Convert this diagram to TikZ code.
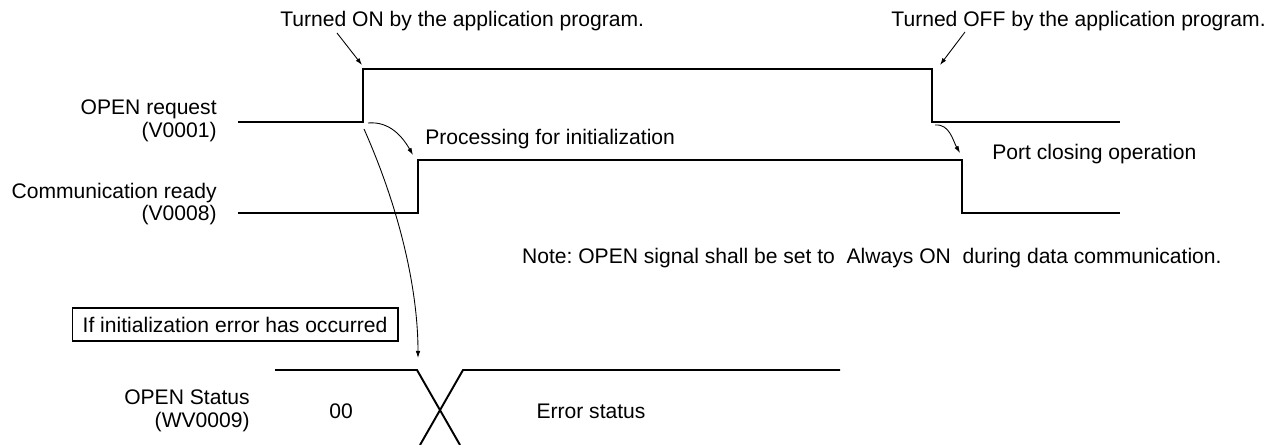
\documentclass[tikz,border=0pt]{standalone}
\usepackage{fontspec}
\setmainfont{Liberation Sans}
\usetikzlibrary{arrows.meta}
\begin{document}
\frenchspacing
\begin{tikzpicture}[x=0.02cm,y=-0.02cm,font=\fontsize{12}{12.8}\selectfont,
  sig/.style={line width=1.1pt},
  lbl/.style={inner sep=0pt},
  pointer/.style={-{Latex[length=4pt,width=2.6pt]},line width=0.5pt}]
\useasboundingbox (0,0) rectangle (1270,445);
\def\sigWave#1#2#3#4{%
  \draw[sig] (238,#1) -- (#3,#1) -- (#3,#2) -- (#4,#2) -- (#4,#1) -- (1120,#1);}
\sigWave{122}{69}{363}{932}
\sigWave{213}{160}{418}{962}
\node[lbl,align=right,anchor=east] (req) at (217,121) {OPEN request\\(V0001)};
\node[lbl,align=right,anchor=east] (rdy) at (217,204) {Communication ready\\(V0008)};
\node[lbl,anchor=base west] (tOn) at (280,27) {Turned ON by the application program.};
\node[lbl,anchor=base east] (tOff) at (1266,27) {Turned OFF by the application program.};
\node[lbl,anchor=base west] (proc) at (425,145) {Processing for initialization};
\node[lbl,anchor=base west] (close) at (992,160) {Port closing operation};
\node[lbl,anchor=base east] (note) at (1222,264) {Note: OPEN signal shall be set to\ \ Always ON\ \ during data communication.};
\node[draw,line width=0.6pt,minimum width=6.52cm,minimum height=0.66cm] (cond) at (235,324.5) {If initialization error has occurred};
\node[lbl,align=right,anchor=east] (stat) at (250,411) {OPEN Status\\(WV0009)};
\node[lbl] (v00) at (341,411) {00};
\node[lbl] (vErr) at (591,411) {Error status};
\draw[sig] (275,370) -- (417,370) -- (460,445);
\draw[sig] (840,370) -- (463,370) -- (420,445);
\coordinate (onFrom) at (337,33);  \coordinate (onTo) at (362,65);
\coordinate (offFrom) at (965,32); \coordinate (offTo) at (940,65);
\coordinate (procFrom) at (368,123); \coordinate (procTo) at (413,155);
\coordinate (errFrom) at (364,129); \coordinate (errTo) at (418,358);
\coordinate (closeFrom) at (935,125); \coordinate (closeTo) at (960,153);
\draw[pointer] (onFrom) -- (onTo);
\draw[pointer] (offFrom) -- (offTo);
\draw[pointer] (procFrom) to[out=5,in=120] (procTo);
\draw[pointer] (closeFrom) to[out=5,in=120] (closeTo);
\draw[pointer] (errFrom) .. controls (400,210) and (418,290) .. (errTo);
\end{tikzpicture}
\end{document}
